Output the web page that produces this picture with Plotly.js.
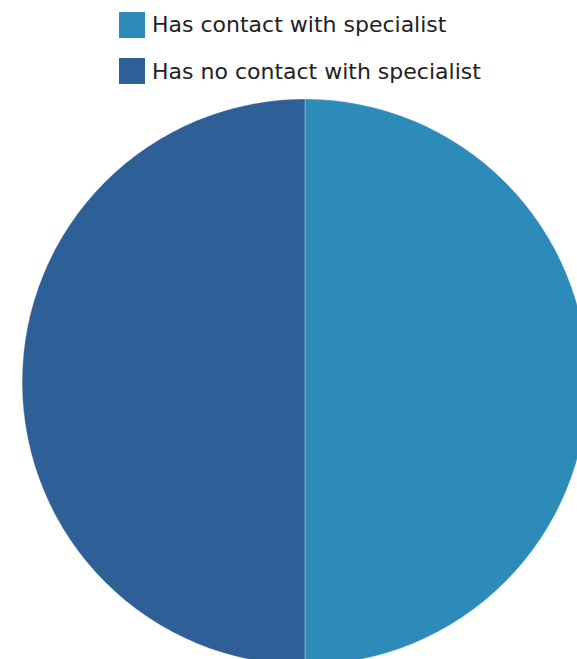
<!DOCTYPE html>
<html>
<head>
<meta charset="utf-8">
<script src="https://cdn.plot.ly/plotly-3.0.1.min.js"></script>
<style>
html,body{margin:0;padding:0;overflow:hidden;background:#fff;width:577px;height:659px;}
#chart{width:700px;height:700px;}
</style>
</head>
<body>
<div id="chart"></div>
<script>
const labels = ["Has contact with specialist", "Has no contact with specialist"];
const values = [50, 50];
const colors = ["#2D8BBA", "#2E5F97"];

const W = 700, H = 700;
const px = x => x / W;
const py = y => (H - y) / H;

const trace = {
  type: "pie",
  labels: labels,
  values: values,
  sort: false,
  direction: "clockwise",
  rotation: 0,
  textinfo: "none",
  hoverinfo: "label+percent",
  marker: {colors: colors, line: {color: "rgba(255,255,255,0.4)", width: 0.8}},
  domain: {x: [px(22), px(588)], y: [py(665), py(99)]},
  showlegend: false
};

const shapes = [];
const annotations = [];
const rowY = [25, 71];
labels.forEach((lab, i) => {
  shapes.push({
    type: "rect", xref: "paper", yref: "paper",
    x0: px(119), x1: px(145), y0: py(rowY[i] - 13), y1: py(rowY[i] + 13),
    fillcolor: colors[i], line: {width: 0}
  });
  annotations.push({
    xref: "paper", yref: "paper", x: px(150), y: py(rowY[i]),
    xanchor: "left", yanchor: "middle", showarrow: false,
    text: lab, font: {family: "DejaVu Sans", size: 22, color: "#222"}
  });
});

Plotly.newPlot("chart", [trace], {
  width: W, height: H,
  margin: {l: 0, r: 0, t: 0, b: 0},
  paper_bgcolor: "#fff",
  showlegend: false,
  shapes: shapes,
  annotations: annotations
}, {displayModeBar: false, staticPlot: true});
</script>
</body>
</html>
